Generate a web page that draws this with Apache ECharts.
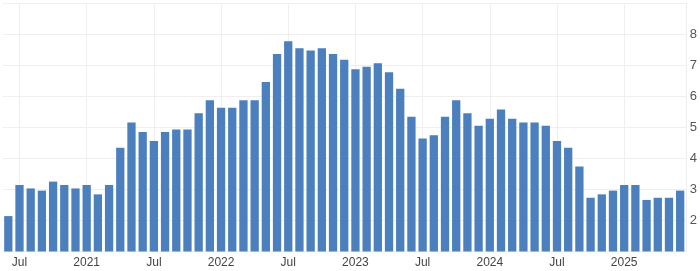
<!DOCTYPE html>
<html>
<head>
<meta charset="utf-8">
<script src="https://cdn.jsdelivr.net/npm/echarts@6/dist/echarts.min.js"></script>
<style>html,body{margin:0;padding:0;background:#fff}#c{width:700px;height:271px}</style>
</head>
<body>
<div id="c"></div>
<script>
const months = [
  '2020-06','2020-07','2020-08','2020-09','2020-10','2020-11','2020-12',
  '2021-01','2021-02','2021-03','2021-04','2021-05','2021-06','2021-07','2021-08','2021-09','2021-10','2021-11','2021-12',
  '2022-01','2022-02','2022-03','2022-04','2022-05','2022-06','2022-07','2022-08','2022-09','2022-10','2022-11','2022-12',
  '2023-01','2023-02','2023-03','2023-04','2023-05','2023-06','2023-07','2023-08','2023-09','2023-10','2023-11','2023-12',
  '2024-01','2024-02','2024-03','2024-04','2024-05','2024-06','2024-07','2024-08','2024-09','2024-10','2024-11','2024-12',
  '2025-01','2025-02','2025-03','2025-04','2025-05','2025-06'
];
const values = [
  2.14, 3.14, 3.03, 2.96, 3.25, 3.14, 3.03,
  3.14, 2.84, 3.14, 4.34, 5.15, 4.85, 4.56, 4.85, 4.93, 4.93, 5.45, 5.87,
  5.63, 5.63, 5.87, 5.87, 6.46, 7.36, 7.77, 7.54, 7.47, 7.54, 7.36, 7.17,
  6.87, 6.95, 7.06, 6.77, 6.24, 5.34, 4.64, 4.74, 5.34, 5.87, 5.45, 5.05,
  5.27, 5.57, 5.27, 5.15, 5.15, 5.05, 4.56, 4.34, 3.74, 2.73, 2.84, 2.96,
  3.14, 3.14, 2.66, 2.73, 2.73, 2.96
];
const yTickLabels = ['2','3','4','5','6','7','8'];
const xTickMonths = months.filter(m => m.endsWith('-01') || m.endsWith('-07'));

function xLabel(m) {
  const [y, mo] = m.split('-');
  return mo === '01' ? y : 'Jul';
}

const chart = echarts.init(document.getElementById('c'), null, {renderer: 'canvas'});
chart.setOption({
  animation: false,
  backgroundColor: '#ffffff',
  grid: {left: 2.7, right: 13.5, top: 3, bottom: 19.5, containLabel: false},
  xAxis: {
    type: 'category',
    data: months,
    boundaryGap: true,
    axisLine: {show: false},
    axisTick: {show: false},
    splitLine: {show: false},
    axisLabel: {
      interval: (i, v) => xTickMonths.includes(v),
      formatter: v => xLabel(v),
      color: '#444',
      fontSize: 12,
      fontFamily: 'Liberation Sans, Arial, sans-serif',
      margin: 5
    }
  },
  yAxis: {
    type: 'value',
    position: 'right',
    min: 1, max: 9, interval: 1,
    axisLine: {show: true, lineStyle: {color: '#eeeeee'}},
    axisTick: {show: false},
    splitLine: {show: true, lineStyle: {color: '#efefef', width: 1}},
    axisLabel: {
      formatter: v => yTickLabels.includes(String(v)) ? String(v) : '',
      color: '#555',
      fontSize: 13,
      fontFamily: 'Liberation Sans, Arial, sans-serif',
      margin: 4
    }
  },
  series: [{
    type: 'bar',
    data: values,
    barCategoryGap: '26%',
    itemStyle: {color: '#4b7fbe'},
    z: 2,
    markLine: {
      silent: true,
      symbol: 'none',
      z: 1,
      label: {show: false},
      lineStyle: {color: '#efefef', type: 'solid', width: 1},
      data: xTickMonths.map(m => ({xAxis: m}))
    }
  }]
});
</script>
</body>
</html>
